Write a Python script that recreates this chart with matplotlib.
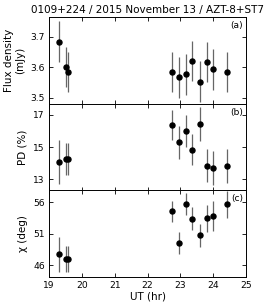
import matplotlib
matplotlib.use("Agg")
from matplotlib import pyplot as plt

# data
ut = [19.30, 19.51, 19.59, 22.74, 22.96, 23.16, 23.37, 23.60, 23.80, 24.01, 24.41]

flux = [3.684, 3.600, 3.584, 3.584, 3.567, 3.577, 3.620, 3.553, 3.617, 3.593, 3.584]
flux_err = [0.068, 0.066, 0.066, 0.066, 0.066, 0.066, 0.066, 0.066, 0.066, 0.066, 0.066]

pd_ = [14.07, 14.27, 14.27, 16.40, 15.29, 16.01, 14.85, 16.45, 13.84, 13.70, 13.82]
pd_err = [1.35, 1.0, 1.0, 0.93, 1.0, 1.0, 0.97, 1.06, 1.04, 1.07, 1.04]

chi = [47.7, 46.97, 46.97, 54.55, 49.55, 55.73, 53.42, 50.73, 53.44, 53.79, 55.68]
chi_err = [2.75, 2.0, 2.0, 1.6, 1.8, 1.7, 1.8, 1.8, 2.1, 2.4, 2.2]

fs = 7.5
tfs = 6.6

fig = plt.figure(figsize=(2.74, 3.02), dpi=100)
left, width = 49 / 274, 197 / 274
h = 87 / 302
bottoms = [1 - 104 / 302, 1 - 191 / 302, 1 - 277 / 302]
axes = [fig.add_axes([left, b, width, h]) for b in bottoms]

panels = [
    (flux, flux_err, "Flux density\n(mJy)", (3.48, 3.764), [3.5, 3.6, 3.7], "(a)"),
    (pd_, pd_err, "PD (%)", (12.27, 17.68), [13, 15, 17], "(b)"),
    (chi, chi_err, "\u03c7 (deg)", (44.1, 57.98), [46, 51, 56], "(c)"),
]

for ax, (y, e, lab, lim, ticks, tag) in zip(axes, panels):
    ax.errorbar(ut, y, yerr=e, fmt="o", color="black", ms=3.6,
                ecolor="0.4", elinewidth=0.9, capsize=0)
    ax.set_xlim(19, 25)
    ax.set_ylim(*lim)
    ax.set_yticks(ticks)
    ax.set_xticks(range(19, 26))
    ax.set_ylabel(lab, fontsize=fs, linespacing=1.05, labelpad=4)
    ax.tick_params(direction="in", top=True, right=True, labelsize=tfs,
                   length=3, width=0.6, pad=3)
    ax.text(0.985, 0.955, tag, transform=ax.transAxes, ha="right", va="top",
            fontsize=tfs)
    for s in ax.spines.values():
        s.set_linewidth(0.7)

for ax in axes[:2]:
    ax.tick_params(labelbottom=False)

axes[0].set_title("0109+224 / 2015 November 13 / AZT-8+ST7", fontsize=fs, pad=3)
axes[2].set_xlabel("UT (hr)", fontsize=fs, labelpad=1)

fig.savefig("out.png", dpi=100)
